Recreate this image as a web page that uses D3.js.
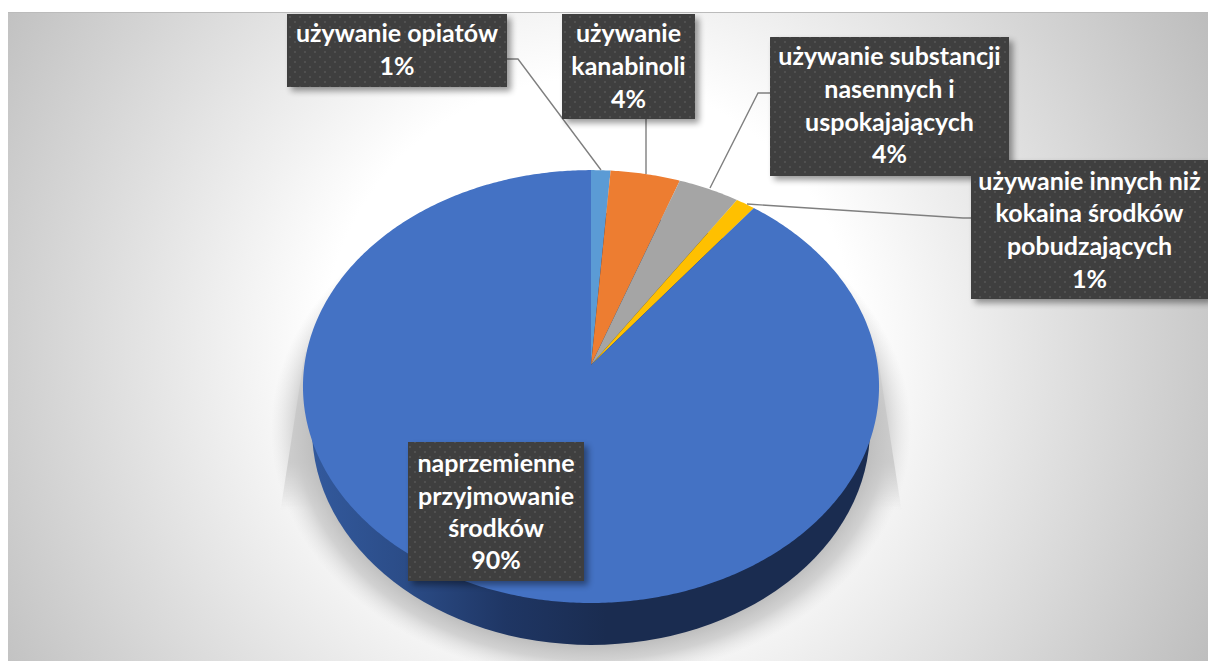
<!DOCTYPE html>
<html lang="pl">
<head>
<meta charset="utf-8">
<style>
html,body{margin:0;padding:0;background:#fff;overflow:hidden}
svg{display:block}
text{font-family:Lato,"Open Sans",sans-serif;font-weight:700;fill:#fff;text-anchor:middle}
</style>
</head>
<body>
<svg id="chart" width="1208" height="661"></svg>
<script src="https://cdn.jsdelivr.net/npm/d3@7/dist/d3.min.js"></script>
<script>
const categoryLines = [
  ["używanie opiatów"],
  ["używanie","kanabinoli"],
  ["używanie substancji","nasennych i","uspokajających"],
  ["używanie innych niż","kokaina środków","pobudzających"],
  ["naprzemienne","przyjmowanie","środków"]
];
const values = [1.2,4.3,3.8,1.2,89.5];
const percentLabels = ["1%","4%","4%","1%","90%"];
const colors = ["#5B9BD5","#ED7D31","#A5A5A5","#FFC000","#4472C4"];
const labelLines = categoryLines.map((l,i)=>[...l,percentLabels[i]]);

const svg = d3.select("#chart");
const defs = svg.append("defs");

// ---- layout constants (not data)
const apex = {x:591,y:365};
const persp = {p:-0.0995,R:286.6,S:214.3};
const project = a => {
  const u=Math.sin(a), v=-Math.cos(a), w=1+persp.p*v;
  return [apex.x+persp.R*u/w, apex.y+persp.S*v/w];
};
const boxes = [
  {x:287,y:14,w:220,h:73,base:[42,75]},
  {x:562,y:14,w:133,h:105,base:[42,75,108]},
  {x:770,y:37,w:239,h:139,base:[65,98,131,163]},
  {x:971,y:160,w:237,h:139,base:[190,222,255,288]},
  {x:408,y:442,w:176,h:139,base:[472,505,537,569]}
];
const leaders = [
  [[507,59],[518,59],[601,170]],
  [[646,119],[646,174]],
  [[770,93],[758,93],[710,188]],
  [[971,218],[963,218],[747,204]]
];

// ---- defs
const bg = defs.append("radialGradient").attr("id","bg").attr("gradientUnits","userSpaceOnUse")
  .attr("cx",590).attr("cy",345).attr("r",700);
[[0,"#ffffff"],[0.38,"#ffffff"],[1,"#bdbdbd"]].forEach(s=>bg.append("stop").attr("offset",s[0]).attr("stop-color",s[1]));

const side = defs.append("linearGradient").attr("id","side").attr("gradientUnits","userSpaceOnUse")
  .attr("x1",305).attr("x2",640).attr("y1",0).attr("y2",0);
[[0,"#335a9e"],[0.3,"#2b4c87"],[0.6,"#1f3664"],[0.9,"#1a2c50"]].forEach(s=>side.append("stop").attr("offset",s[0]).attr("stop-color",s[1]));

const sh = defs.append("radialGradient").attr("id","shadow").attr("gradientUnits","userSpaceOnUse")
  .attr("cx",0).attr("cy",0).attr("r",1)
  .attr("gradientTransform","translate(591,430) scale(320,250)");
[[0,"#bababa",1],[0.85,"#bababa",1],[0.92,"#c8c8c8",0.8],[1,"#dddddd",0]].forEach(s=>
  sh.append("stop").attr("offset",s[0]).attr("stop-color",s[1]).attr("stop-opacity",s[2]));

const sliver = defs.append("linearGradient").attr("id","sliver").attr("gradientUnits","userSpaceOnUse")
  .attr("x1",0).attr("x2",0).attr("y1",352).attr("y2",510);
[[0,"#cfcfcf",0.3],[0.35,"#cbcbcb",1],[0.7,"#c8c8c8",1],[1,"#d0d0d0",0]].forEach(s=>
  sliver.append("stop").attr("offset",s[0]).attr("stop-color",s[1]).attr("stop-opacity",s[2]));

defs.append("filter").attr("id","soft").attr("x","-5%").attr("y","-5%").attr("width","110%").attr("height","110%")
  .append("feGaussianBlur").attr("stdDeviation",0.6);

const boxShadow = defs.append("filter").attr("id","boxShadow").attr("x","-15%").attr("y","-15%").attr("width","135%").attr("height","135%");
boxShadow.append("feGaussianBlur").attr("stdDeviation",3);

const pat = defs.append("pattern").attr("id","dots").attr("patternUnits","userSpaceOnUse")
  .attr("width",10).attr("height",10).attr("x",287).attr("y",14);
pat.append("rect").attr("width",10).attr("height",10).attr("fill","#3f3f3f");
pat.append("rect").attr("x",2).attr("y",2).attr("width",2).attr("height",2).attr("fill","#505050");
pat.append("rect").attr("x",7).attr("y",7).attr("width",2).attr("height",2).attr("fill","#505050");

// ---- background
svg.append("rect").attr("x",8).attr("y",12).attr("width",1200).attr("height",649).attr("fill","url(#bg)");
svg.append("line").attr("x1",8).attr("x2",1208).attr("y1",12.5).attr("y2",12.5).attr("stroke","#bbbbbb").attr("stroke-width",1);

// ---- shadow under the pie
svg.append("path").attr("d","M305,352 L279,520 L903,520 L877,352 Z")
  .attr("fill","url(#sliver)").attr("filter","url(#soft)");
svg.append("ellipse").attr("cx",591).attr("cy",430).attr("rx",320).attr("ry",250).attr("fill","url(#shadow)");

// ---- extruded side
svg.append("ellipse").attr("cx",591).attr("cy",429).attr("rx",279).attr("ry",216).attr("fill","url(#side)");

// ---- top face slices
const pieGen = d3.pie().sort(null).value(d=>d).startAngle(0).endAngle(2*Math.PI);
const arcs = pieGen(values);
const line = d3.line().curve(d3.curveLinearClosed);
const steps = a => {
  const n = Math.max(2,Math.ceil((a.endAngle-a.startAngle)/0.01));
  return d3.range(n+1).map(i=>project(a.startAngle+(a.endAngle-a.startAngle)*i/n));
};
svg.append("g").selectAll("path").data(arcs).join("path")
  .attr("d",a=>line([[apex.x,apex.y],...steps(a)]))
  .attr("fill",(a,i)=>colors[i]);

// ---- leader lines
const leaderLine = d3.line();
svg.append("g").selectAll("path").data(leaders).join("path")
  .attr("d",leaderLine).attr("fill","none").attr("stroke","#7f7f7f").attr("stroke-width",1.4);

// ---- labels
const g = svg.append("g").selectAll("g").data(labelLines).join("g");
g.append("rect").attr("x",(d,i)=>boxes[i].x+4).attr("y",(d,i)=>boxes[i].y+4)
  .attr("width",(d,i)=>boxes[i].w).attr("height",(d,i)=>boxes[i].h)
  .attr("fill","#000").attr("opacity",0.4).attr("filter","url(#boxShadow)");
g.append("rect").attr("x",(d,i)=>boxes[i].x).attr("y",(d,i)=>boxes[i].y)
  .attr("width",(d,i)=>boxes[i].w).attr("height",(d,i)=>boxes[i].h)
  .attr("fill","url(#dots)");
g.each(function(lines,i){
  const b = boxes[i];
  d3.select(this).selectAll("text").data(lines).join("text")
    .attr("x",b.x+b.w/2).attr("y",(d,j)=>b.base[j])
    .attr("font-size",25).text(d=>d);
});
</script>
</body>
</html>
